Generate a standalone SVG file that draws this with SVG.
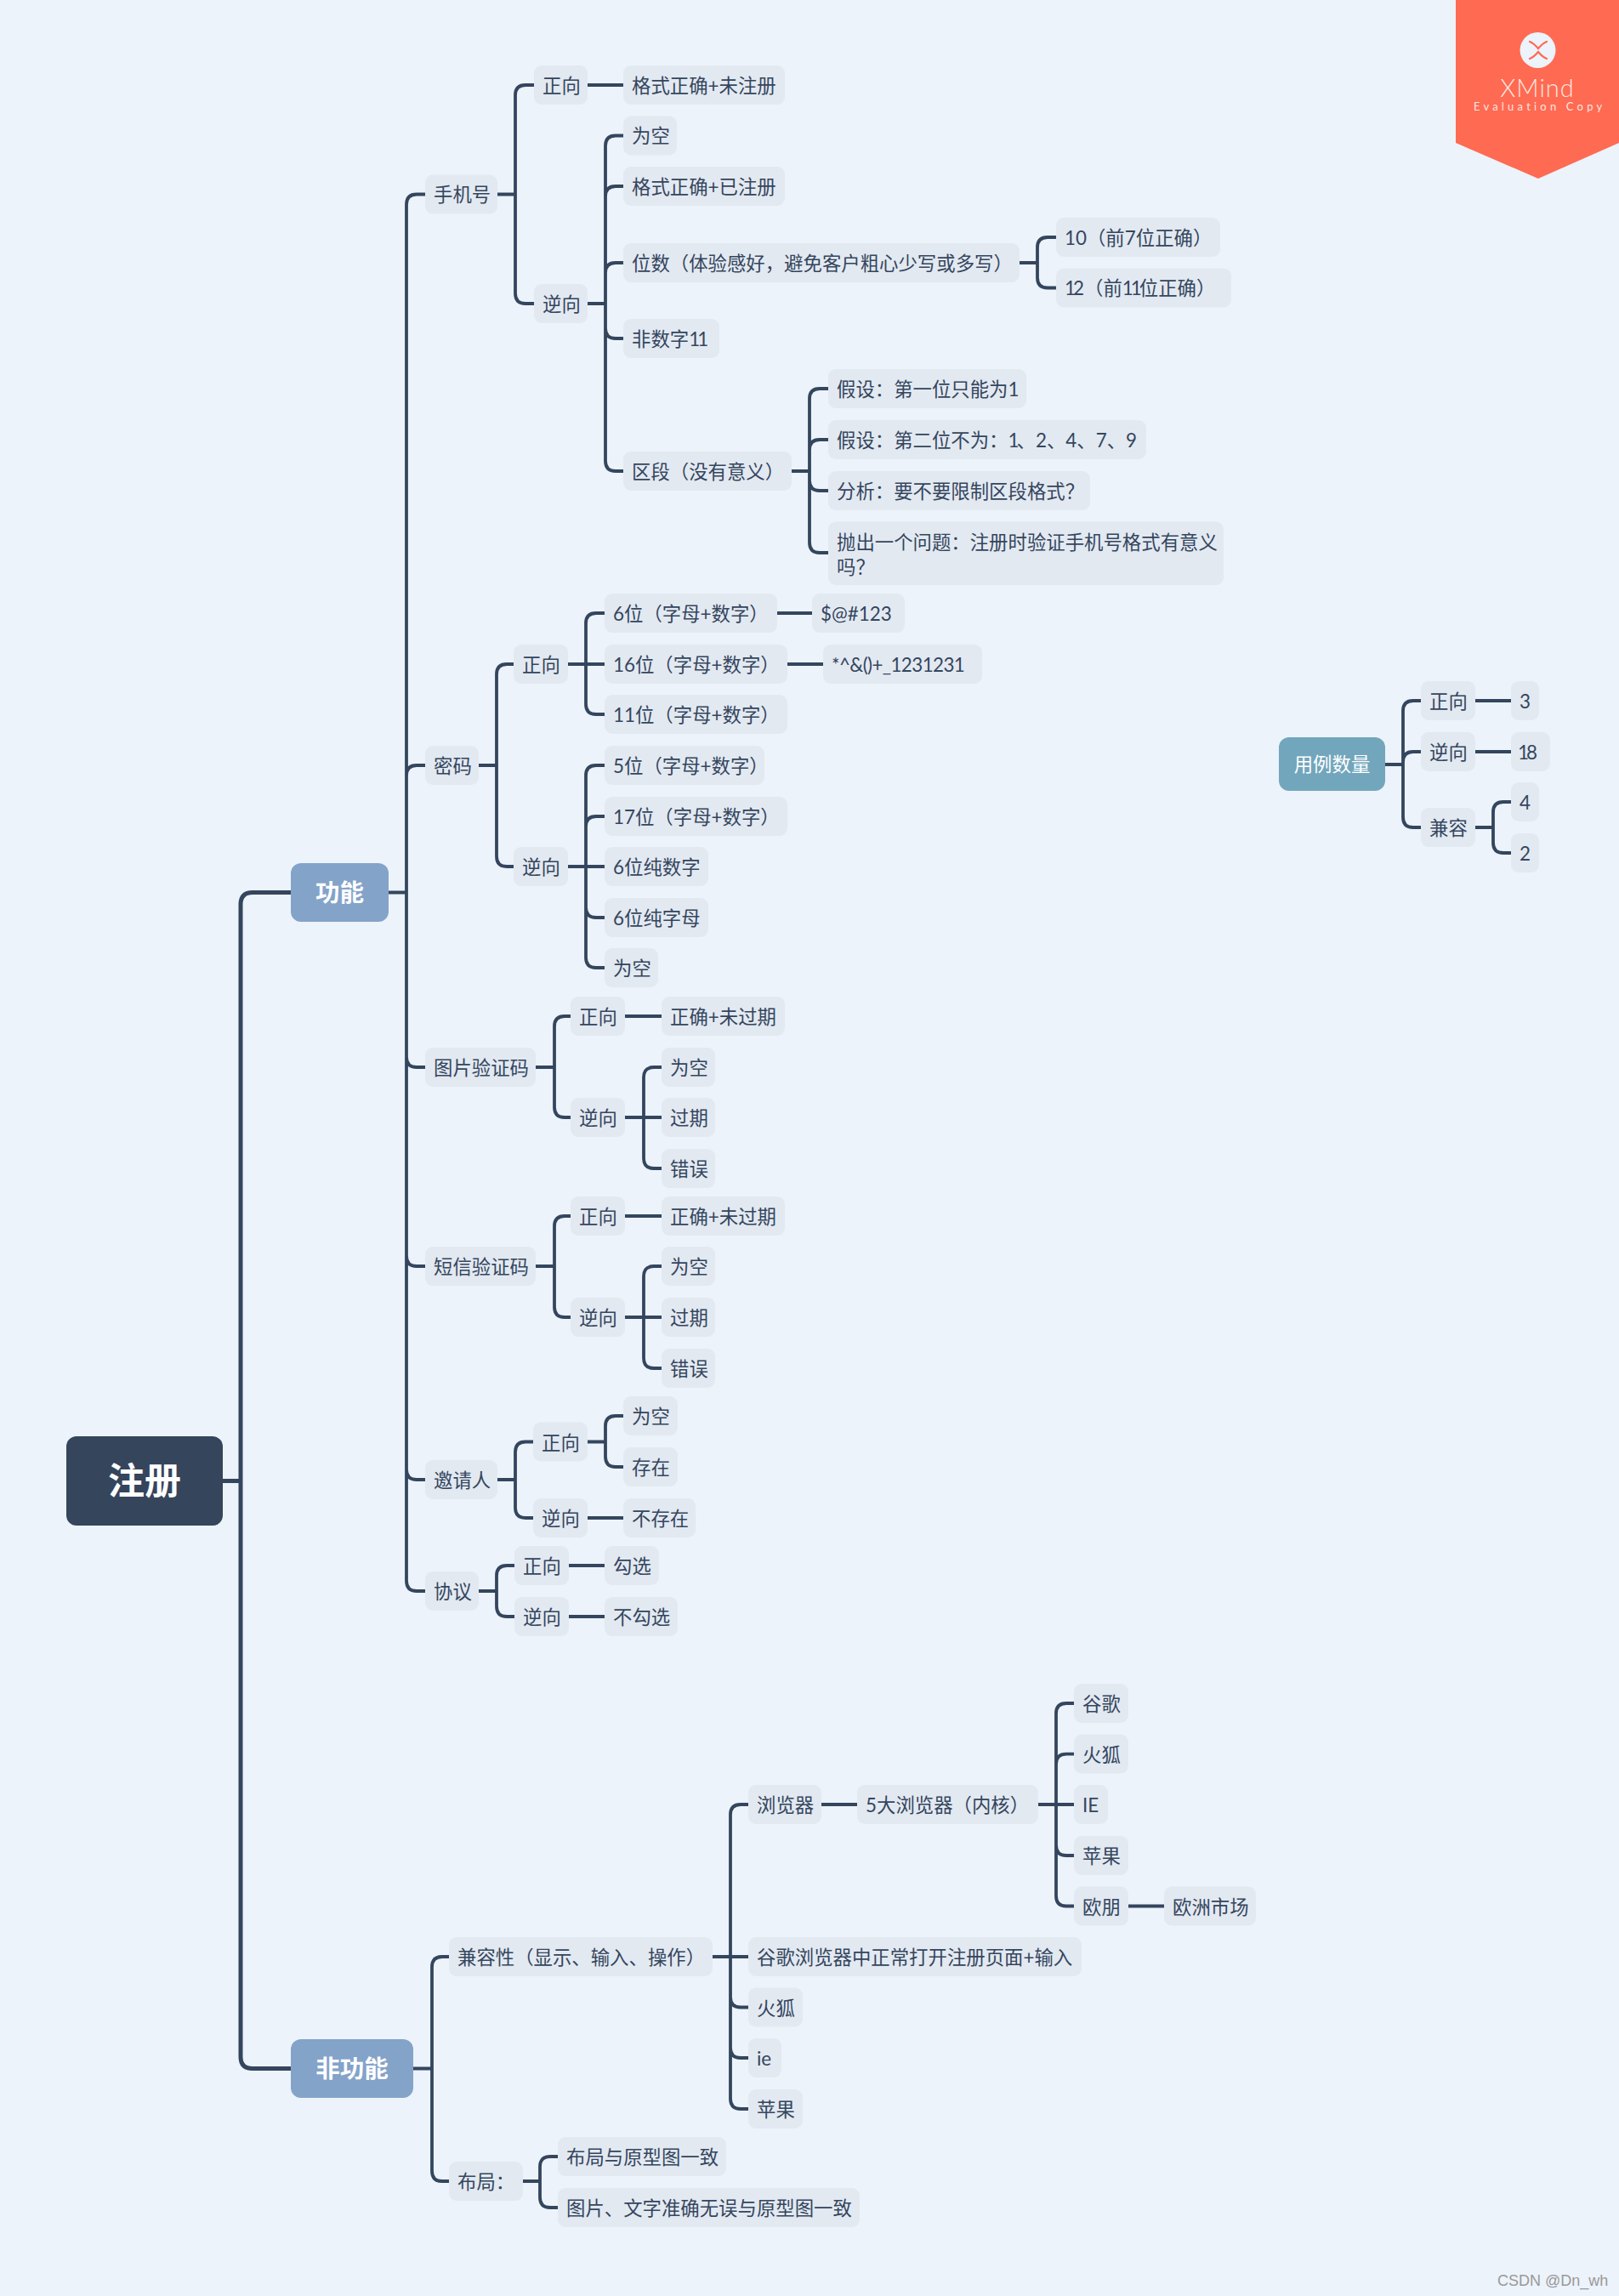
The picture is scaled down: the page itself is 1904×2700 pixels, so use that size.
<svg xmlns="http://www.w3.org/2000/svg" width="1904" height="2700" viewBox="0 0 1904 2700">
<style>
text{font-family:"Lato","Noto Sans CJK SC",sans-serif;font-size:22.4px;fill:#34465e}
.n rect{fill:#e3e9f1}
.n text{transform:translateY(1px)}
.t{letter-spacing:-3px}
.hub text{fill:#fff;font-weight:700;text-anchor:middle}
#connectors path{fill:none;stroke:#34465e;stroke-width:3.8;stroke-linecap:butt}
#connectors .main{stroke-width:5}
</style>
<rect width="1904" height="2700" fill="#ecf3fa"/>
<g id="connectors">
<path class="main" d="M262 1741.5H283M342 1049.5H297Q283 1049.5 283 1063.5V2418.5Q283 2432.5 297 2432.5H342"/>
<path d="M457 1049.5H478M500 228.5H490Q478 228.5 478 240.5V1859Q478 1871 490 1871H500M500 900H490Q478 900 478 912M500 1255H490Q478 1255 478 1243M500 1489H490Q478 1489 478 1477M500 1740H490Q478 1740 478 1728"/>
<path d="M585 228.5H606M628 100H618Q606 100 606 112V345Q606 357 618 357H628M691 100H733"/>
<path d="M691 357H712M733 159.5H724Q712 159.5 712 171.5V542Q712 554 724 554H733M733 219H724Q712 219 712 231M733 309H724Q712 309 712 321M733 398H724Q712 398 712 386"/>
<path d="M1199 309H1220M1242 279H1232Q1220 279 1220 291V326.5Q1220 338.5 1232 338.5H1242"/>
<path d="M931 554H952M974 457H964Q952 457 952 469V638Q952 650 964 650H974M974 517H964Q952 517 952 529M974 577H964Q952 577 952 565"/>
<path d="M563 900H584M604 781H596Q584 781 584 793V1007Q584 1019 596 1019H604"/>
<path d="M668 781H711M711 721H701Q689 721 689 733V828Q689 840 701 840H711M914 721H955M926 781H968"/>
<path d="M668 1019H711M711 900H701Q689 900 689 912V1126Q689 1138 701 1138H711M711 960H701Q689 960 689 972M711 1079H701Q689 1079 689 1067"/>
<path d="M630 1255H652M671 1195H664Q652 1195 652 1207V1302Q652 1314 664 1314H671M735 1195H778"/>
<path d="M735 1314H778M778 1255H769Q757 1255 757 1267V1362Q757 1374 769 1374H778"/>
<path d="M630 1489H652M671 1430H664Q652 1430 652 1442V1537Q652 1549 664 1549H671M735 1430H778"/>
<path d="M735 1549H778M778 1489H769Q757 1489 757 1501V1597Q757 1609 769 1609H778"/>
<path d="M585 1740H606M627 1695.5H618Q606 1695.5 606 1707.5V1773Q606 1785 618 1785H627"/>
<path d="M691 1695.5H712M733 1665H724Q712 1665 712 1677V1713Q712 1725 724 1725H733M691 1785H733"/>
<path d="M563 1871H584M605 1841H596Q584 1841 584 1853V1889Q584 1901 596 1901H605M669 1841H711M669 1901H711"/>
<path d="M486 2432.5H508M528 2301H520Q508 2301 508 2313V2553Q508 2565 520 2565H528"/>
<path d="M838 2301H880M880 2122H871Q859 2122 859 2134V2468Q859 2480 871 2480H880M880 2360.5H871Q859 2360.5 859 2348.5M880 2420H871Q859 2420 859 2408"/>
<path d="M966 2122H1008M1221 2122H1263M1263 2003H1254Q1242 2003 1242 2015V2229.5Q1242 2241.5 1254 2241.5H1263M1263 2062.6H1254Q1242 2062.6 1242 2074.6M1263 2182H1254Q1242 2182 1242 2170M1327 2241.5H1369"/>
<path d="M615 2565H635M656 2536H647Q635 2536 635 2548V2584Q635 2596 647 2596H656"/>
<path d="M1629 899H1650M1671 824H1662Q1650 824 1650 836V961Q1650 973 1662 973H1671M1671 884H1662Q1650 884 1650 896M1735 824H1777M1735 884H1777"/>
<path d="M1735 973H1756M1777 943H1768Q1756 943 1756 955V991Q1756 1003 1768 1003H1777"/>
</g>
<g id="root" class="hub"><rect x="78" y="1689" width="184" height="105" rx="12" fill="#35455c"/><text x="170" y="1757" style="font-size:43px">注册</text></g>
<g id="gongneng" class="hub"><rect x="342" y="1015" width="115" height="69" rx="12" fill="#84a3c9"/><text x="399.500" y="1060" style="font-size:28.500px">功能</text></g>
<g id="feigongneng" class="hub"><rect x="342" y="2398" width="144" height="69" rx="12" fill="#84a3c9"/><text x="414" y="2443" style="font-size:28.500px">非功能</text></g>
<g id="yongli" class="hub"><rect x="1504" y="867" width="125" height="63" rx="12" fill="#72a6bc"/><text x="1566.500" y="906.500" style="font-weight:400">用例数量</text></g>

<g id="n01" class="n"><rect x="500" y="205.500" width="85" height="46" rx="9"/><text x="510" y="236">手机号</text></g>
<g id="n02" class="n"><rect x="628" y="77" width="63" height="46" rx="9"/><text x="638" y="108">正向</text></g>
<g id="n03" class="n"><rect x="733" y="77" width="190" height="46" rx="9"/><text x="743" y="108">格式正确+未注册</text></g>
<g id="n04" class="n"><rect x="628" y="334" width="63" height="46" rx="9"/><text x="638" y="365">逆向</text></g>
<g id="n05" class="n"><rect x="733" y="136.500" width="63" height="46" rx="9"/><text x="743" y="167">为空</text></g>
<g id="n06" class="n"><rect x="733" y="196" width="190" height="46" rx="9"/><text x="743" y="227">格式正确+已注册</text></g>
<g id="n07" class="n"><rect x="733" y="286" width="466" height="46" rx="9"/><text x="743" y="317">位数（体验感好，避免客户粗心少写或多写）</text></g>
<g id="n08" class="n"><rect x="1242" y="256" width="193" height="46" rx="9"/><text x="1252" y="287">10（前7位正确）</text></g>
<g id="n09" class="n"><rect x="1242" y="315.500" width="206" height="46" rx="9"/><text x="1252" y="346"><tspan class="t">1</tspan>2（前<tspan class="t">11</tspan>位正确）</text></g>
<g id="n10" class="n"><rect x="733" y="375" width="113" height="46" rx="9"/><text x="743" y="406">非数字<tspan class="t">11</tspan></text></g>
<g id="n11" class="n"><rect x="733" y="531" width="198" height="46" rx="9"/><text x="743" y="562">区段（没有意义）</text></g>
<g id="n12" class="n"><rect x="974" y="434" width="233" height="46" rx="9"/><text x="984" y="465">假设：第一位只能为<tspan class="t">1</tspan></text></g>
<g id="n13" class="n"><rect x="974" y="494" width="374" height="46" rx="9"/><text x="984" y="525">假设：第二位不为：<tspan class="t">1</tspan>、2、4、7、9</text></g>
<g id="n14" class="n"><rect x="974" y="554" width="308" height="46" rx="9"/><text x="984" y="585">分析：要不要限制区段格式？</text></g>
<g id="n15" class="n"><rect x="974" y="613.500" width="465" height="74.500" rx="9"/><text x="984" y="645">抛出一个问题：注册时验证手机号格式有意义</text><text x="984" y="674">吗？</text></g>

<g id="n16" class="n"><rect x="500" y="877" width="63" height="46" rx="9"/><text x="510" y="908">密码</text></g>
<g id="n17" class="n"><rect x="604" y="758" width="64" height="46" rx="9"/><text x="614" y="789">正向</text></g>
<g id="n18" class="n"><rect x="711" y="698" width="203" height="46" rx="9"/><text x="721" y="729">6位（字母+数字）</text></g>
<g id="n19" class="n"><rect x="955" y="698" width="109" height="46" rx="9"/><text x="965" y="729">$@#123</text></g>
<g id="n20" class="n"><rect x="711" y="758" width="215" height="46" rx="9"/><text x="721" y="789">16位（字母+数字）</text></g>
<g id="n21" class="n"><rect x="968" y="758" width="187" height="46" rx="9"/><text x="978" y="789" style="letter-spacing:-.6px">*^&amp;()+_1231231</text></g>
<g id="n22" class="n"><rect x="711" y="817" width="215" height="46" rx="9"/><text x="721" y="848">11位（字母+数字）</text></g>
<g id="n23" class="n"><rect x="604" y="996" width="64" height="46" rx="9"/><text x="614" y="1027">逆向</text></g>
<g id="n24" class="n"><rect x="711" y="877" width="188" height="46" rx="9"/><text x="721" y="908">5位（字母+数字）</text></g>
<g id="n25" class="n"><rect x="711" y="937" width="215" height="46" rx="9"/><text x="721" y="968">17位（字母+数字）</text></g>
<g id="n26" class="n"><rect x="711" y="996" width="122" height="46" rx="9"/><text x="721" y="1027">6位纯数字</text></g>
<g id="n27" class="n"><rect x="711" y="1056" width="122" height="46" rx="9"/><text x="721" y="1087">6位纯字母</text></g>
<g id="n28" class="n"><rect x="711" y="1115" width="63" height="46" rx="9"/><text x="721" y="1146">为空</text></g>

<g id="n29" class="n"><rect x="500" y="1232" width="130" height="46" rx="9"/><text x="510" y="1263">图片验证码</text></g>
<g id="n30" class="n"><rect x="671" y="1172" width="64" height="46" rx="9"/><text x="681" y="1203">正向</text></g>
<g id="n31" class="n"><rect x="778" y="1172" width="145" height="46" rx="9"/><text x="788" y="1203">正确+未过期</text></g>
<g id="n32" class="n"><rect x="671" y="1291" width="64" height="46" rx="9"/><text x="681" y="1322">逆向</text></g>
<g id="n33" class="n"><rect x="778" y="1232" width="63" height="46" rx="9"/><text x="788" y="1263">为空</text></g>
<g id="n34" class="n"><rect x="778" y="1291" width="63" height="46" rx="9"/><text x="788" y="1322">过期</text></g>
<g id="n35" class="n"><rect x="778" y="1351" width="63" height="46" rx="9"/><text x="788" y="1382">错误</text></g>

<g id="n36" class="n"><rect x="500" y="1466" width="130" height="46" rx="9"/><text x="510" y="1497">短信验证码</text></g>
<g id="n37" class="n"><rect x="671" y="1407" width="64" height="46" rx="9"/><text x="681" y="1438">正向</text></g>
<g id="n38" class="n"><rect x="778" y="1407" width="145" height="46" rx="9"/><text x="788" y="1438">正确+未过期</text></g>
<g id="n39" class="n"><rect x="671" y="1526" width="64" height="46" rx="9"/><text x="681" y="1557">逆向</text></g>
<g id="n40" class="n"><rect x="778" y="1466" width="63" height="46" rx="9"/><text x="788" y="1497">为空</text></g>
<g id="n41" class="n"><rect x="778" y="1526" width="63" height="46" rx="9"/><text x="788" y="1557">过期</text></g>
<g id="n42" class="n"><rect x="778" y="1586" width="63" height="46" rx="9"/><text x="788" y="1617">错误</text></g>

<g id="n43" class="n"><rect x="500" y="1717" width="85" height="46" rx="9"/><text x="510" y="1748">邀请人</text></g>
<g id="n44" class="n"><rect x="627" y="1672.500" width="64" height="46" rx="9"/><text x="637" y="1703.500">正向</text></g>
<g id="n45" class="n"><rect x="733" y="1642" width="64" height="46" rx="9"/><text x="743" y="1673">为空</text></g>
<g id="n46" class="n"><rect x="733" y="1702" width="64" height="46" rx="9"/><text x="743" y="1733">存在</text></g>
<g id="n47" class="n"><rect x="627" y="1762" width="64" height="46" rx="9"/><text x="637" y="1793">逆向</text></g>
<g id="n48" class="n"><rect x="733" y="1762" width="85" height="46" rx="9"/><text x="743" y="1793">不存在</text></g>

<g id="n49" class="n"><rect x="500" y="1848" width="63" height="46" rx="9"/><text x="510" y="1879">协议</text></g>
<g id="n50" class="n"><rect x="605" y="1818" width="64" height="46" rx="9"/><text x="615" y="1849">正向</text></g>
<g id="n51" class="n"><rect x="711" y="1818" width="64" height="46" rx="9"/><text x="721" y="1849">勾选</text></g>
<g id="n52" class="n"><rect x="605" y="1878" width="64" height="46" rx="9"/><text x="615" y="1909">逆向</text></g>
<g id="n53" class="n"><rect x="711" y="1878" width="86" height="46" rx="9"/><text x="721" y="1909">不勾选</text></g>

<g id="n54" class="n"><rect x="528" y="2278" width="310" height="46" rx="9"/><text x="538" y="2309">兼容性（显示、输入、操作）</text></g>
<g id="n55" class="n"><rect x="880" y="2099" width="86" height="46" rx="9"/><text x="890" y="2130">浏览器</text></g>
<g id="n56" class="n"><rect x="1008" y="2099" width="213" height="46" rx="9"/><text x="1018" y="2130">5大浏览器（内核）</text></g>
<g id="n57" class="n"><rect x="1263" y="1980" width="64" height="46" rx="9"/><text x="1273" y="2011">谷歌</text></g>
<g id="n58" class="n"><rect x="1263" y="2039.600" width="64" height="46" rx="9"/><text x="1273" y="2070.600">火狐</text></g>
<g id="n59" class="n"><rect x="1263" y="2099" width="40" height="46" rx="9"/><text x="1273" y="2130">IE</text></g>
<g id="n60" class="n"><rect x="1263" y="2159" width="64" height="46" rx="9"/><text x="1273" y="2190">苹果</text></g>
<g id="n61" class="n"><rect x="1263" y="2218.500" width="64" height="46" rx="9"/><text x="1273" y="2249.500">欧朋</text></g>
<g id="n62" class="n"><rect x="1369" y="2218.500" width="108" height="46" rx="9"/><text x="1379" y="2249.500">欧洲市场</text></g>
<g id="n63" class="n"><rect x="880" y="2278" width="392" height="46" rx="9"/><text x="890" y="2309">谷歌浏览器中正常打开注册页面+输入</text></g>
<g id="n64" class="n"><rect x="880" y="2337.500" width="64" height="46" rx="9"/><text x="890" y="2368.500">火狐</text></g>
<g id="n65" class="n"><rect x="880" y="2397" width="39" height="46" rx="9"/><text x="890" y="2428">ie</text></g>
<g id="n66" class="n"><rect x="880" y="2457" width="64" height="46" rx="9"/><text x="890" y="2488">苹果</text></g>
<g id="n67" class="n"><rect x="528" y="2542" width="87" height="46" rx="9"/><text x="538" y="2573">布局：</text></g>
<g id="n68" class="n"><rect x="656" y="2513" width="198" height="46" rx="9"/><text x="666" y="2544">布局与原型图一致</text></g>
<g id="n69" class="n"><rect x="656" y="2573" width="355" height="46" rx="9"/><text x="666" y="2604">图片、文字准确无误与原型图一致</text></g>

<g id="n70" class="n"><rect x="1671" y="801" width="64" height="46" rx="9"/><text x="1681" y="832">正向</text></g>
<g id="n71" class="n"><rect x="1777" y="801" width="33" height="46" rx="9"/><text x="1787" y="832">3</text></g>
<g id="n72" class="n"><rect x="1671" y="861" width="64" height="46" rx="9"/><text x="1681" y="892">逆向</text></g>
<g id="n73" class="n"><rect x="1777" y="861" width="46" height="46" rx="9"/><text x="1785" y="892"><tspan class="t">1</tspan>8</text></g>
<g id="n74" class="n"><rect x="1671" y="950" width="64" height="46" rx="9"/><text x="1681" y="981">兼容</text></g>
<g id="n75" class="n"><rect x="1777" y="920" width="33" height="46" rx="9"/><text x="1787" y="951">4</text></g>
<g id="n76" class="n"><rect x="1777" y="980" width="33" height="46" rx="9"/><text x="1787" y="1011">2</text></g>

<g id="badge">
<polygon points="1712,0 1904,0 1904,168 1809,210 1712,168" fill="#ff6a52"/>
<circle cx="1808.500" cy="59" r="21" fill="#ecf3fa"/>
<path d="M1799 49Q1804 51 1809 57Q1814 51 1819 49M1799 69Q1804 67 1809 61Q1814 67 1819 69" fill="none" stroke="#ff6a52" stroke-width="2.200" stroke-linecap="round"/>
<text x="1808" y="114" text-anchor="middle" style="font-size:29px;font-weight:300;letter-spacing:1px;fill:#fbe6e0">XMind</text>
<text x="1733" y="130" style="font-size:13px;letter-spacing:4.200px;fill:#fbe6e0">Evaluation Copy</text>
</g>
<text id="watermark" x="1761" y="2688" style="font-family:'Liberation Sans',sans-serif;font-size:18px;fill:#999">CSDN @Dn_wh</text>
</svg>
